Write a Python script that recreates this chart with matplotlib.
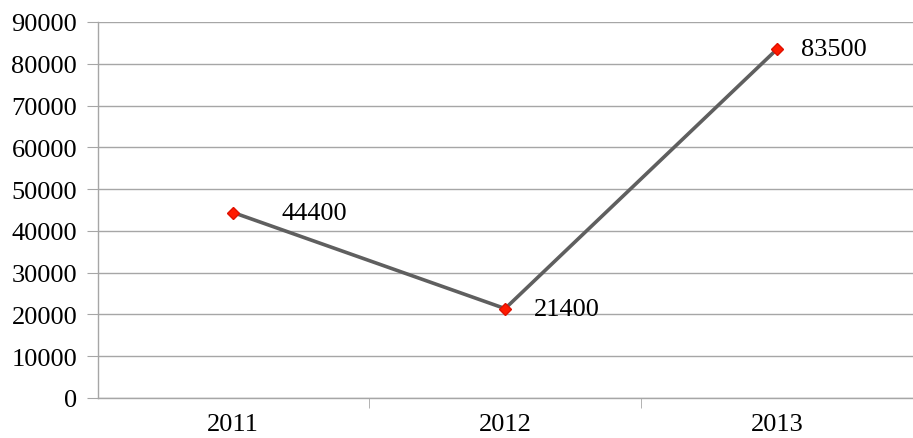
import matplotlib.pyplot as plt
import matplotlib.ticker as ticker

plt.rcParams['font.family'] = ['Liberation Serif', 'DejaVu Serif']
plt.rcParams['font.size'] = 19

# Data
years = ["2011", "2012", "2013"]
values = [44400, 21400, 83500]
# label offsets (points) to the right of each marker
label_dx = [35, 21, 17]

grid_color = '#a6a6a6'
line_color = '#5f5f5f'

fig = plt.figure(figsize=(9.13, 4.39), dpi=100)
ax = fig.add_axes([98 / 913, 40 / 439, 1 - 98 / 913, (399 - 23) / 439])

x = list(range(len(years)))
ax.plot(x, values, color=line_color, linewidth=2.6, zorder=3)
ax.plot(x, values, linestyle='none', marker='D', markersize=6.5,
        color='#ff1a00', markeredgecolor='#e01000', zorder=4)

for xi, v, dx in zip(x, values, label_dx):
    ax.annotate(f"{v}", (xi, v), xytext=(dx, 0), textcoords='offset points',
                ha='left', va='center', fontsize=19)

ax.set_ylim(0, 90000)
ax.set_xlim(-0.497, 2.45)
ax.yaxis.set_major_locator(ticker.MultipleLocator(10000))
ax.set_xticks(x)
ax.set_xticklabels(years)
ax.set_xticks([0.5, 1.5, 2.5], minor=True)

ax.grid(axis='y', color=grid_color, linewidth=1.0, zorder=0)
ax.set_axisbelow(True)

for pos in ['top', 'right']:
    ax.spines[pos].set_visible(False)
for pos in ['left', 'bottom']:
    ax.spines[pos].set_color(grid_color)
    ax.spines[pos].set_linewidth(1.0)

ax.tick_params(axis='y', which='major', length=8, color=grid_color, pad=7,
               labelsize=19)
ax.tick_params(axis='x', which='major', length=0, pad=11, labelsize=19)
ax.tick_params(axis='x', which='minor', length=7, color=grid_color,
               direction='out')

fig.savefig("out.png", dpi=100)
